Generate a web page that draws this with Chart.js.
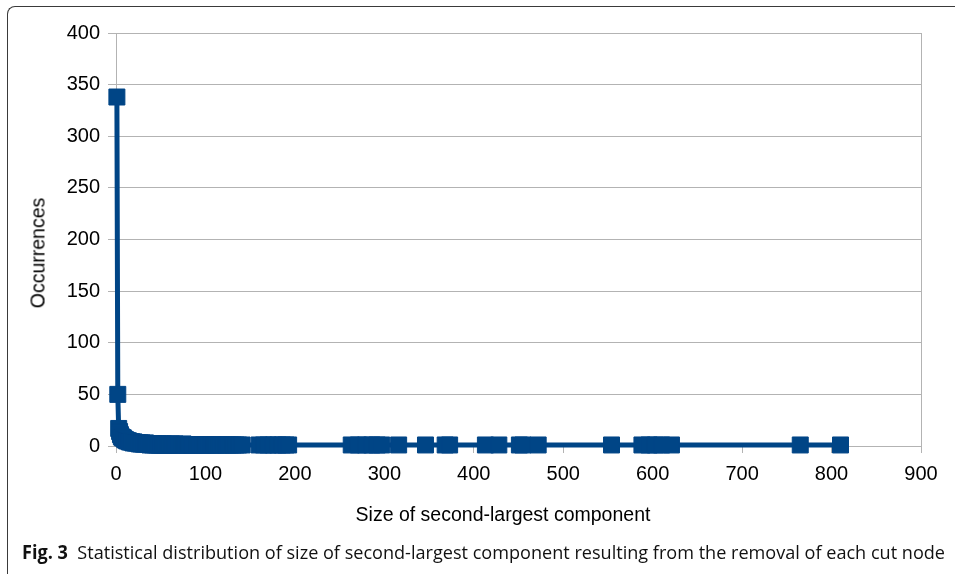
<!DOCTYPE html>
<html>
<head>
<meta charset="utf-8">
<script src="https://cdn.jsdelivr.net/npm/chart.js@4.4.1/dist/chart.umd.min.js"></script>
<style>
  html, body { margin: 0; padding: 0; background: #fff; }
  body { width: 955px; height: 574px; position: relative; overflow: hidden; }
  #frame { position: absolute; left: 7px; top: 6px; width: 1000px; height: 600px;
           border-left: 1px solid #3a3a3a; border-top: 1px solid #3a3a3a; border-top-left-radius: 8px; }
  #c { position: absolute; left: 0; top: 0; }
  .t { position: absolute; font-family: "Liberation Sans", Arial, sans-serif; color: #000; white-space: nowrap; }
  #xt { font-size: 19.5px; left: 503px; top: 514px; transform: translate(-50%, -50%); }
  #yt { font-size: 19.5px; left: 38px; top: 253px; transform: translate(-50%, -50%) rotate(-90deg); }
  #cap { position: absolute; left: 22px; top: 540px; font-family: "Open Sans", sans-serif; font-size: 19px;
         line-height: 24px; white-space: nowrap; color: #111; transform-origin: 0 50%; }
  #cap b { font-weight: 700; }
</style>
</head>
<body>
<div id="frame"></div>
<canvas id="c" width="955" height="574"></canvas>
<div class="t" id="xt">Size of second-largest component</div>
<div class="t" id="yt">Occurrences</div>
<div id="cap"><b>Fig. 3</b>&nbsp; Statistical distribution of size of second-largest component resulting from the removal of each cut node</div>
<script>
// Size of second-largest component (x) and number of occurrences (y)
const sizes = [
  1, 2, 3, 4, 5, 6, 7, 8, 9, 10,
  11, 12, 13, 14, 15, 16, 17, 18, 19, 20,
  21, 22, 23, 24, 25, 26, 27, 28, 29, 30,
  31, 32, 33, 34, 35, 36, 37, 38, 39, 40,
  41, 42, 43, 44, 45, 46, 47, 48, 49, 50,
  51, 52, 53, 54, 55, 56, 57, 58, 59, 60,
  62, 63, 65, 66, 68, 70, 71, 73, 75, 77,
  78, 80, 82, 84, 86, 87, 89, 91, 93, 95,
  97, 99, 101, 103, 106, 108, 110, 112, 115, 117,
  120, 123, 125, 128, 131, 134, 137, 141,
  160, 165, 170, 176, 181, 186, 190, 193,
  263, 271, 279, 286, 292, 297, 316,
  346, 368, 373,
  413, 428, 451, 455, 472,
  554, 588, 596, 603, 610, 621,
  765, 810
];
const occurrences = [
  338, 50, 17, 14, 11, 9, 8, 8, 7, 6,
  6, 5, 5, 5, 4, 4, 4, 4, 3, 4,
  3, 3, 3, 3, 3, 2, 3, 2, 3, 2,
  2, 2, 3, 2, 2, 2, 2, 1, 2, 2,
  1, 2, 2, 1, 2, 1, 2, 1, 1, 2,
  1, 1, 2, 1, 1, 1, 2, 1, 1, 1,
  2, 1, 1, 2, 1, 1, 1, 1, 2, 1,
  1, 1, 1, 1, 1, 1, 1, 1, 1, 1,
  1, 1, 1, 1, 1, 1, 1, 1, 1, 1,
  1, 1, 1, 1, 1, 1, 1, 1,
  1, 1, 1, 1, 1, 1, 1, 1,
  1, 1, 1, 1, 1, 1, 1,
  1, 1, 1,
  1, 1, 1, 1, 1,
  1, 1, 1, 1, 1, 1,
  1, 1
];
const xTickValues = [0, 100, 200, 300, 400, 500, 600, 700, 800, 900];
const yTickValues = [0, 50, 100, 150, 200, 250, 300, 350, 400];

const points = sizes.map((s, i) => ({ x: s, y: occurrences[i] }));
const GRID = '#b3b3b3';
const SERIES = '#004586';

new Chart(document.getElementById('c'), {
  type: 'scatter',
  data: {
    datasets: [{
      data: points,
      showLine: true,
      borderColor: SERIES,
      borderWidth: 5,
      backgroundColor: SERIES,
      pointStyle: 'rect',
      pointRadius: 11.3,
      pointHoverRadius: 11.3,
      pointBackgroundColor: SERIES,
      pointBorderColor: SERIES,
      pointBorderWidth: 1,
      tension: 0,
      clip: false
    }]
  },
  options: {
    responsive: false,
    devicePixelRatio: 1,
    animation: false,
    layout: { padding: { left: 0, right: 34, top: 33, bottom: 0 } },
    plugins: { legend: { display: false }, tooltip: { enabled: false } },
    scales: {
      x: {
        type: 'linear',
        min: xTickValues[0],
        max: xTickValues[xTickValues.length - 1],
        afterBuildTicks: s => { s.ticks = xTickValues.map(v => ({ value: v })); },
        afterFit: s => { s.height = 128; },
        grid: {
          color: c => (c.tick && c.tick.value === 900) ? GRID : 'rgba(0,0,0,0)',
          tickColor: GRID,
          tickLength: 7,
          lineWidth: 1
        },
        border: { display: true, color: GRID, width: 1 },
        ticks: {
          color: '#000',
          padding: 9,
          maxRotation: 0,
          font: { family: 'Liberation Sans', size: 20 }
        }
      },
      y: {
        type: 'linear',
        min: yTickValues[0],
        max: yTickValues[yTickValues.length - 1],
        afterBuildTicks: s => { s.ticks = yTickValues.map(v => ({ value: v })); },
        afterFit: s => { s.width = 116; },
        grid: { color: GRID, tickColor: GRID, tickLength: 8, lineWidth: 1 },
        border: { display: true, color: GRID, width: 1 },
        ticks: {
          color: '#000',
          padding: 8,
          font: { family: 'Liberation Sans', size: 20 }
        }
      }
    }
  }
});

// fit caption to its reference width
(function () {
  const cap = document.getElementById('cap');
  const w = cap.getBoundingClientRect().width;
  const target = 923;
  cap.style.transform = 'scaleX(' + (target / w) + ')';
})();
</script>
</body>
</html>
